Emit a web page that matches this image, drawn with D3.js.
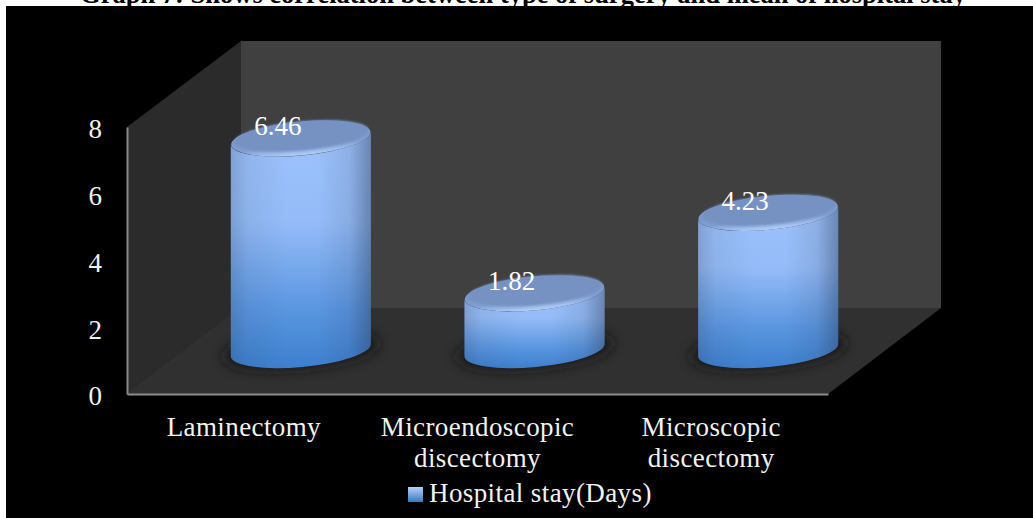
<!DOCTYPE html>
<html><head><meta charset="utf-8">
<script src="https://cdn.jsdelivr.net/npm/d3@7"></script>
<style>html,body{margin:0;padding:0;background:#fff}svg{display:block}text{font-family:"Liberation Serif",serif}</style>
</head><body><div id="c"></div>
<script>
const categories = ["Laminectomy", "Microendoscopic|discectomy", "Microscopic|discectomy"];
const values = [6.46, 1.82, 4.23];
const yTicks = [0, 2, 4, 6, 8];
const seriesName = "Hospital stay(Days)";
const titleText = "Graph 7: Shows correlation between type of surgery and mean of hospital stay";

const W = 1033, H = 518;
const svg = d3.select("#c").append("svg").attr("width", W).attr("height", H);
const defs = svg.append("defs");

// frame geometry
const front = {l: 127, r: 828, b: 394, t: 127};
const depth = {x: 114, y: -86};

const x = d3.scaleBand().domain(categories).range([front.l, front.r]);
const y = d3.scaleLinear().domain([0, 8]).range([front.b, front.t]);

// gradients
const vg = defs.append("linearGradient").attr("id", "vg").attr("x1", 0).attr("y1", 0).attr("x2", 0).attr("y2", 1);
vg.append("stop").attr("offset", 0).attr("stop-color", "#9dc1fb");
vg.append("stop").attr("offset", .38).attr("stop-color", "#95bcf8");
vg.append("stop").attr("offset", .75).attr("stop-color", "#5a96e0");
vg.append("stop").attr("offset", 1).attr("stop-color", "#3d7fce");
const hg = defs.append("linearGradient").attr("id", "hg");
[[0, .22], [.12, .08], [.4, 0], [.62, 0], [.85, .12], [1, .42]].forEach(([o, a]) =>
  hg.append("stop").attr("offset", o).attr("stop-color", "#24344f").attr("stop-opacity", a));
const rim = defs.append("linearGradient").attr("id", "rim").attr("x1", 0).attr("y1", 0).attr("x2", 0).attr("y2", 1);
rim.append("stop").attr("offset", 0).attr("stop-color", "#7692c3");
rim.append("stop").attr("offset", .72).attr("stop-color", "#7f9dd0");
rim.append("stop").attr("offset", 1).attr("stop-color", "#b2d0fa");
const lg = defs.append("linearGradient").attr("id", "lg").attr("x1", 0).attr("y1", 0).attr("x2", 0).attr("y2", 1);
lg.append("stop").attr("offset", 0).attr("stop-color", "#b3d2f8");
lg.append("stop").attr("offset", 1).attr("stop-color", "#3a78c2");
defs.append("filter").attr("id", "blur").attr("x", "-30%").attr("y", "-60%").attr("width", "160%").attr("height", "220%")
  .append("feGaussianBlur").attr("stdDeviation", 7);
defs.append("filter").attr("id", "soft").attr("x", "-5%").attr("y", "-10%").attr("width", "110%").attr("height", "120%")
  .append("feGaussianBlur").attr("stdDeviation", 1.2);

// title (sits above the black panel, which clips it)
svg.append("text").attr("x", 523).attr("y", 3).attr("text-anchor", "middle")
  .attr("font-weight", "bold").attr("font-size", 26.5).attr("fill", "#000").text(titleText);
svg.append("rect").attr("x", 6).attr("y", 6).attr("width", W - 6).attr("height", H - 6).attr("fill", "#000");

// walls
const poly = pts => pts.map(p => p.join(",")).join(" ");
const bl = [front.l, front.b], tl = [front.l, front.t], br = [front.r, front.b];
const blB = [front.l + depth.x, front.b + depth.y], tlB = [front.l + depth.x, front.t + depth.y];
const brB = [front.r + depth.x - 1, front.b + depth.y], trB = [front.r + depth.x - 1, front.t + depth.y];
svg.append("polygon").attr("points", poly([tlB, trB, brB, blB])).attr("fill", "#404040");
svg.append("polygon").attr("points", poly([tl, tlB, blB, bl])).attr("fill", "#2b2b2b");
svg.append("polygon").attr("points", poly([bl, blB, brB, br])).attr("fill", "#303030");
svg.append("line").attr("x1", bl[0]).attr("y1", bl[1]).attr("x2", blB[0]).attr("y2", blB[1]).attr("stroke", "#363636");

// axes
const yAxis = d3.axisLeft(y).tickValues(yTicks).tickSize(0).tickPadding(25).tickFormat(d3.format("d"));
const gy = svg.append("g").attr("transform", `translate(${front.l},0)`).call(yAxis);
gy.select(".domain").attr("stroke", "#8a8a8a").attr("stroke-width", 2);
gy.selectAll("text").attr("fill", "#f2f2f2").attr("font-size", 27).attr("font-family", "Liberation Serif")
  .attr("dy", "0.4em");

const xAxis = d3.axisBottom(x).tickSize(0).tickFormat("");
const gx = svg.append("g").attr("transform", `translate(0,${front.b})`).call(xAxis);
gx.select(".domain").attr("stroke", "#8a8a8a").attr("stroke-width", 2);
gx.selectAll(".tick").each(function (d) {
  const t = d3.select(this).append("text").attr("text-anchor", "middle").attr("fill", "#f2f2f2")
    .attr("font-size", 27).attr("letter-spacing", "0.4px").attr("font-family", "Liberation Serif");
  d.split("|").forEach((line, i) => t.append("tspan").attr("x", 0).attr("y", 42 + i * 31).text(line));
});

// cylinders
const rx = 70, ry = 17, tilt = -5.3;
const baseY = 354, baseDraw = 350;
const rad = tilt * Math.PI / 180;
const dy = rx * Math.sin(rad);
const g = svg.append("g").selectAll("g").data(values.map((v, i) => ({v, c: categories[i]}))).join("g");
g.each(function (d) {
  const s = d3.select(this);
  const cx = x(d.c) + x.bandwidth() / 2 + 57;
  const topY = baseY - (front.b - y(d.v));
  const L = cx - rx, R = cx + rx;
  // shadow
  s.append("ellipse").attr("cx", cx).attr("cy", baseDraw).attr("rx", rx + 8).attr("ry", ry + 1)
    .attr("transform", `rotate(${tilt} ${cx} ${baseDraw})`).attr("fill", "#141414").attr("filter", "url(#blur)");
  const body = `M${L},${topY - dy} L${L},${baseDraw - dy} A${rx},${ry} ${tilt} 0 0 ${R},${baseDraw + dy} L${R},${topY + dy} A${rx},${ry} ${tilt} 0 1 ${L},${topY - dy} Z`;
  s.append("path").attr("d", body).attr("fill", "url(#vg)");
  s.append("path").attr("d", body).attr("fill", "url(#hg)");
  // top cap
  s.append("ellipse").attr("cx", cx).attr("cy", topY).attr("rx", rx).attr("ry", ry)
    .attr("transform", `rotate(${tilt} ${cx} ${topY})`).attr("fill", "url(#rim)");
  s.append("ellipse").attr("cx", cx + 1).attr("cy", topY - 2.5).attr("rx", rx - 3).attr("ry", ry - 2.5)
    .attr("transform", `rotate(${tilt} ${cx} ${topY})`).attr("fill", "#7692c3").attr("filter", "url(#soft)");
  // value label
  s.append("text").attr("x", cx - 23).attr("y", topY - 3).attr("text-anchor", "middle")
    .attr("fill", "#fff").attr("font-size", 27).text(d3.format(".2f")(d.v));
});

// legend
svg.append("rect").attr("x", 408).attr("y", 487).attr("width", 15).attr("height", 15).attr("fill", "url(#lg)");
svg.append("text").attr("x", 429).attr("y", 502).attr("fill", "#f2f2f2").attr("font-size", 27)
  .attr("letter-spacing", "0.4px").text(seriesName);
</script></body></html>
